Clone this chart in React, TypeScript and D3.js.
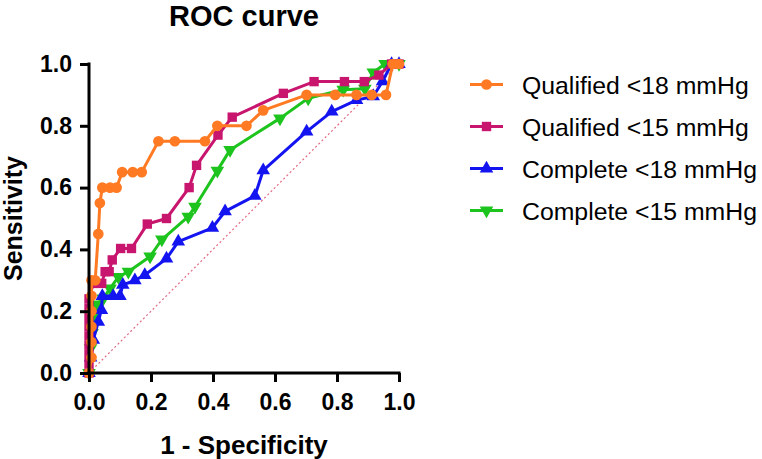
import React, { useEffect, useRef } from 'react';
import * as d3 from 'd3';

type Pt = [number, number];

// [1 - specificity, sensitivity] for each cutoff
const qualified18: Pt[] = [
  [0, 0], [0.008, 0.05], [0.008, 0.1], [0.008, 0.15], [0.008, 0.2], [0.008, 0.25], [0.008, 0.3],
  [0.02, 0.3], [0.03, 0.45], [0.035, 0.55], [0.043, 0.6], [0.068, 0.6], [0.089, 0.6],
  [0.107, 0.65], [0.141, 0.65], [0.17, 0.65], [0.224, 0.75], [0.277, 0.75], [0.374, 0.75],
  [0.414, 0.8], [0.508, 0.8], [0.562, 0.85], [0.702, 0.9], [0.794, 0.9], [0.863, 0.9],
  [0.912, 0.9], [0.958, 0.9], [0.98, 1.0], [1.0, 1.0],
];

const qualified15: Pt[] = [
  [0, 0], [0, 0.03], [0, 0.06], [0, 0.09], [0, 0.12], [0, 0.15], [0, 0.18], [0, 0.21],
  [0, 0.24], [0.014, 0.29], [0.041, 0.29], [0.052, 0.328], [0.065, 0.328], [0.075, 0.366],
  [0.102, 0.403], [0.137, 0.403], [0.188, 0.482], [0.25, 0.5], [0.323, 0.6], [0.347, 0.672],
  [0.416, 0.77], [0.462, 0.828], [0.627, 0.905], [0.726, 0.943], [0.824, 0.943],
  [0.888, 0.943], [0.935, 0.964], [0.976, 1.0], [1.0, 1.0],
];

const complete18: Pt[] = [
  [0, 0], [0.005, 0.05], [0.014, 0.107], [0.03, 0.166], [0.04, 0.204], [0.043, 0.249],
  [0.078, 0.249], [0.1, 0.249], [0.109, 0.285], [0.148, 0.3], [0.18, 0.317], [0.25, 0.37],
  [0.288, 0.425], [0.398, 0.47], [0.439, 0.523], [0.535, 0.573], [0.562, 0.656],
  [0.702, 0.781], [0.783, 0.846], [0.863, 0.883], [0.917, 0.895], [0.947, 0.944],
  [0.976, 1.0], [1.0, 1.0],
];

const complete15: Pt[] = [
  [0, 0], [0.005, 0.08], [0.01, 0.13], [0.019, 0.182], [0.024, 0.222], [0.046, 0.241],
  [0.068, 0.274], [0.095, 0.311], [0.127, 0.328], [0.197, 0.377], [0.235, 0.432],
  [0.32, 0.506], [0.342, 0.538], [0.414, 0.655], [0.455, 0.722], [0.616, 0.824],
  [0.707, 0.889], [0.82, 0.917], [0.89, 0.92], [0.917, 0.973], [0.955, 1.0], [1.0, 1.0],
];

const seriesNames = ['Qualified <18 mmHg', 'Qualified <15 mmHg', 'Complete <18 mmHg', 'Complete <15 mmHg'];
const seriesData = [qualified18, qualified15, complete18, complete15];
const seriesColors = ['#ff7a22', '#c8156e', '#1414f0', '#1ec41e'];
const tickValues = [0, 0.2, 0.4, 0.6, 0.8, 1.0];

const FONT = "'Liberation Sans', Arial, Helvetica, sans-serif";

// circle, square, up-triangle, down-triangle
const markerPath = (i: number) => {
  if (i === 0) return d3.symbol(d3.symbolCircle, 90)()!;
  if (i === 1) return d3.symbol(d3.symbolSquare, 88)()!;
  return d3.symbol(d3.symbolTriangle, 80)()!;
};

const App: React.FC = () => {
  const ref = useRef<SVGSVGElement>(null);

  useEffect(() => {
    if (!ref.current) return;
    const svg = d3.select(ref.current);
    svg.selectAll('*').remove();

    const x = d3.scaleLinear().domain([0, 1]).range([89, 399]);
    const y = d3.scaleLinear().domain([0, 1]).range([373, 64]);

    // chance line
    svg
      .append('line')
      .attr('x1', x(0))
      .attr('y1', y(0))
      .attr('x2', x(1))
      .attr('y2', y(1))
      .attr('stroke', '#e06a82')
      .attr('stroke-width', 1.2)
      .attr('stroke-dasharray', '2,2.5');

    const line = d3
      .line<Pt>()
      .x((d) => x(d[0]))
      .y((d) => y(d[1]));

    // first series ends up on top
    for (let i = seriesData.length - 1; i >= 0; i--) {
      const g = svg.append('g');
      g.append('path')
        .attr('d', line(seriesData[i]))
        .attr('fill', 'none')
        .attr('stroke', seriesColors[i])
        .attr('stroke-width', 3)
        .attr('stroke-linejoin', 'round');
      g.selectAll('path.m')
        .data(seriesData[i])
        .enter()
        .append('path')
        .attr('class', 'm')
        .attr('d', markerPath(i))
        .attr('transform', (d) => `translate(${x(d[0])},${y(d[1])})${i === 3 ? ' rotate(180)' : ''}`)
        .attr('fill', seriesColors[i]);
    }

    // axes
    const xAxis = svg
      .append('g')
      .attr('transform', `translate(0,${y(0)})`)
      .call(d3.axisBottom(x).tickValues(tickValues).tickFormat(d3.format('.1f')).tickSizeOuter(0).tickSize(9).tickPadding(12));
    const yAxis = svg
      .append('g')
      .attr('transform', `translate(${x(0)},0)`)
      .call(d3.axisLeft(y).tickValues(tickValues).tickFormat(d3.format('.1f')).tickSizeOuter(0).tickSize(9).tickPadding(8));

    [xAxis, yAxis].forEach((a) => {
      a.select('.domain').attr('stroke', '#000').attr('stroke-width', 3);
      a.selectAll('.tick line').attr('stroke', '#000').attr('stroke-width', 3);
      a.selectAll('.tick text')
        .attr('fill', '#000')
        .style('font-family', FONT)
        .style('font-weight', 'bold')
        .style('font-size', '23px');
    });
    xAxis.select('.domain').attr('d', `M${x(0) - 1.5},0H${x(1) + 1.5}`);
    yAxis.select('.domain').attr('d', `M0,${y(0) + 1.5}V${y(1) - 1.5}`);

    svg
      .append('text')
      .attr('x', (x(0) + x(1)) / 2)
      .attr('y', 26)
      .attr('text-anchor', 'middle')
      .style('font-family', FONT)
      .style('font-weight', 'bold')
      .style('font-size', '29px')
      .text('ROC curve');

    svg
      .append('text')
      .attr('x', (x(0) + x(1)) / 2)
      .attr('y', 454)
      .attr('text-anchor', 'middle')
      .style('font-family', FONT)
      .style('font-weight', 'bold')
      .style('font-size', '26px')
      .text('1 - Specificity');

    svg
      .append('text')
      .attr('transform', `translate(22,${(y(0) + y(1)) / 2}) rotate(-90)`)
      .attr('text-anchor', 'middle')
      .style('font-family', FONT)
      .style('font-weight', 'bold')
      .style('font-size', '25px')
      .text('Sensitivity');

    // legend
    const legend = svg.append('g');
    seriesNames.forEach((name, i) => {
      const cy = 84.5 + i * 42;
      const row = legend.append('g').attr('transform', `translate(470,${cy})`);
      row.append('line').attr('x1', 0).attr('x2', 33).attr('stroke', seriesColors[i]).attr('stroke-width', 3);
      row
        .append('path')
        .attr('d', markerPath(i))
        .attr('transform', `translate(16.5,0)${i === 3 ? ' rotate(180)' : ''}`)
        .attr('fill', seriesColors[i]);
      row
        .append('text')
        .attr('x', 52)
        .attr('y', 9.5)
        .style('font-family', FONT)
        .style('font-size', '24.8px')
        .attr('fill', '#000')
        .text(name);
    });
  }, []);

  return (
    <svg
      ref={ref}
      width={762}
      height={459}
      style={{ position: 'absolute', left: 0, top: 0, background: '#fff' }}
    />
  );
};

export default App;
